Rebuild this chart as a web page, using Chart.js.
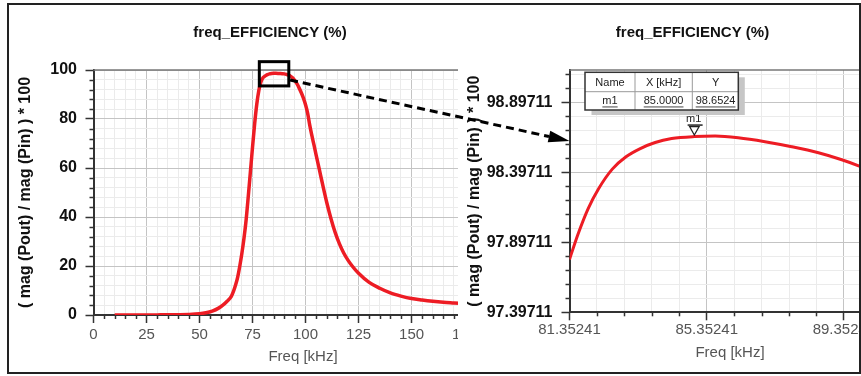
<!DOCTYPE html>
<html>
<head>
<meta charset="utf-8">
<script src="https://cdn.jsdelivr.net/npm/chart.js@4/dist/chart.umd.min.js"></script>
<style>
html,body{margin:0;padding:0;background:#fff;overflow:hidden;width:861px;height:376px;}
#stage{position:relative;width:861px;height:376px;overflow:hidden;background:#fff;}
#leftWrap{position:absolute;left:10px;top:6px;width:510px;height:360px;}
#rightWrap{position:absolute;left:458px;top:6px;width:433px;height:360px;background:#fff;}
#overlay{position:absolute;left:0;top:0;pointer-events:none;}
#frame{position:absolute;left:7px;top:3px;width:854px;height:371px;box-sizing:border-box;border:2px solid #222;pointer-events:none;}
</style>
</head>
<body>
<div id="stage">
  <div id="leftWrap"><canvas id="leftChart" width="510" height="360"></canvas></div>
  <div id="rightWrap"><canvas id="rightChart" width="433" height="360"></canvas></div>
  <canvas id="overlay" width="861" height="376"></canvas>
  <div id="frame"></div>
</div>
<script>
// ---------------- DATA ----------------
const chartTitle = 'freq_EFFICIENCY (%)';
const xAxisTitle = 'Freq [kHz]';
const yAxisTitle = '( mag (Pout) / mag (Pin) ) * 100';

// full sweep (left plot)
const leftFreq = [10,20,30,40,45,50,53,56,59,61,63,65,66,67,68,69,70,71,72,73,74,75,76,77,78,79,80,81,82,83,84,85,86,87,88,89,90,91,92,93,94,95,96,97,98,99,100,101,102,103,104,105,106,107,108,109,110,112,114,116,118,120,122,125,130,135,140,145,150,155,160,165,170,175];
const leftEff  = [0.02,0.03,0.05,0.12,0.22,0.5,0.9,1.6,2.8,4.0,5.6,7.6,9.6,12.2,15.5,20.0,25.3,31.5,39.0,48.5,58.5,68.5,78.0,86.0,91.8,95.2,96.9,97.6,98.08,98.42,98.58,98.65,98.645,98.62,98.57,98.51,98.42,98.2,97.9,97.4,96.7,95.6,94.3,92.6,90.7,88.5,85.8,82.3,77.4,73.2,69.3,65.3,61.4,57.4,53.5,49.6,45.9,39.3,33.6,29.0,25.3,22.4,20.0,17.0,13.3,10.9,9.0,7.7,6.7,6.1,5.6,5.2,4.9,4.6];

// zoomed view (right plot)
const zoomFreq = [81.35241,81.6,81.9,82.2,82.6,83.0,83.4,83.85,84.33,85.0,85.6,86.27,87.05,87.83,88.61,89.29,89.82,90.3];
const zoomEff  = [97.775,97.955,98.140,98.280,98.420,98.508,98.565,98.610,98.638,98.6524,98.656,98.644,98.616,98.580,98.537,98.487,98.440,98.39];

// marker m1
const markerName = 'm1';
const markerFreq = 85.0;
const markerEff = 98.6524;
const markerHeaders = ['Name', 'X [kHz]', 'Y'];

// axis ticks
const leftXMajor = [0,25,50,75,100,125,150,175];
const leftXLabels = ['0','25','50','75','100','125','150','175'];
const leftXMinorDiv = 5;
const leftXRange = [0, 197.6];
const leftYMajor = [0,20,40,60,80,100];
const leftYLabels = ['0','20','40','60','80','100'];
const leftYMinorDiv = 5;
const leftYRange = [0, 100];

const rightXMajor = [81.35241,85.35241,89.35241];
const rightXLabels = ['81.35241','85.35241','89.35241'];
const rightXMinorDiv = 5;
const rightXRange = [81.35241, 90.71];
const rightYMajor = [97.39711,97.89711,98.39711,98.89711];
const rightYLabels = ['97.39711','97.89711','98.39711','98.89711'];
const rightYMinorDiv = 5;
const rightYRange = [97.39711, 99.128];

// annotation: zoom box on the left plot (data units) and arrow endpoints
const zoomBox = {x0: 78.2, x1: 92.1, y0: 93.5, y1: 103.4};
const arrowFrom = {x: 92.7, y: 95.9};   // left plot units
const arrowTo = {x: 81.35241, y: 98.621}; // right plot units

// ---------------- HELPERS ----------------
const FONT = "'Liberation Sans', Arial, Helvetica, sans-serif";
const RED = '#ed1c24';

function buildTicks(major, labels, div, max) {
  const out = [];
  const step = (major[1] - major[0]) / div;
  for (let i = 0; i < major.length; i++) {
    out.push({value: major[i], lbl: labels[i]});
    const next = (i + 1 < major.length) ? major[i + 1] : max + 1e-9;
    for (let k = 1; k < div; k++) {
      const v = major[i] + k * step;
      if (v < next - 1e-9 && v <= max) out.push({value: v, lbl: ''});
    }
  }
  return out.filter(t => t.value <= max + 1e-9);
}

function axis(opts) {
  return {
    type: 'linear',
    min: opts.range[0], max: opts.range[1],
    afterBuildTicks: s => { s.ticks = buildTicks(opts.major, opts.labels, opts.div, opts.range[1]); },
    ticks: {
      autoSkip: false, maxRotation: 0, minRotation: 0,
      color: opts.tickColor, font: opts.tickFont, padding: opts.tickPad,
      callback: (v, i, t) => (t[i] && t[i].lbl) || ''
    },
    grid: {
      color: c => (c.tick && c.tick.lbl) ? '#c4c4c4' : '#ebebeb',
      lineWidth: 1,
      tickLength: 8,
      tickWidth: 1.5,
      tickColor: c => (c.tick && c.tick.lbl) ? '#333' : 'rgba(0,0,0,0)'
    },
    border: {color: '#333', width: 2},
    title: {display: true, text: opts.title, color: opts.titleColor, font: opts.titleFont, padding: opts.titlePad},
    afterFit: opts.afterFit
  };
}

const decoPlugin = {
  id: 'deco',
  afterDraw(chart, args, o) {
    const ctx = chart.ctx, a = chart.chartArea;
    ctx.save();
    ctx.strokeStyle = '#777'; ctx.lineWidth = 1.5;
    ctx.beginPath(); ctx.moveTo(a.left, a.top); ctx.lineTo(a.right, a.top); ctx.stroke();
    ctx.strokeStyle = '#333'; ctx.lineWidth = 1.5;
    const sx = chart.scales.x, sy = chart.scales.y;
    sx.ticks.forEach(t => { if (!t.lbl) { const p = Math.round(sx.getPixelForValue(t.value)) + 0.5; ctx.beginPath(); ctx.moveTo(p, a.bottom); ctx.lineTo(p, a.bottom + 4); ctx.stroke(); } });
    sy.ticks.forEach(t => { if (!t.lbl) { const p = Math.round(sy.getPixelForValue(t.value)) + 0.5; ctx.beginPath(); ctx.moveTo(a.left - 4, p); ctx.lineTo(a.left, p); ctx.stroke(); } });
    ctx.fillStyle = '#111';
    ctx.font = 'bold 15px ' + FONT;
    ctx.textAlign = 'center'; ctx.textBaseline = 'middle';
    ctx.fillText(chartTitle, o.titleX, o.titleY);
    ctx.restore();
  }
};

const boxPlugin = {
  id: 'zoombox',
  afterDraw(chart) {
    const ctx = chart.ctx, sx = chart.scales.x, sy = chart.scales.y;
    const x0 = sx.getPixelForValue(zoomBox.x0), x1 = sx.getPixelForValue(zoomBox.x1);
    const y0 = sy.getPixelForValue(zoomBox.y1), y1 = sy.getPixelForValue(zoomBox.y0);
    ctx.save();
    ctx.strokeStyle = '#000'; ctx.lineWidth = 3;
    ctx.strokeRect(x0, y0, x1 - x0, y1 - y0);
    ctx.restore();
  }
};

const markerPlugin = {
  id: 'marker',
  afterDraw(chart) {
    const ctx = chart.ctx, a = chart.chartArea, sx = chart.scales.x, sy = chart.scales.y;
    const px = sx.getPixelForValue(markerFreq), py = sy.getPixelForValue(markerEff);
    ctx.save();
    ctx.strokeStyle = '#222'; ctx.lineWidth = 1.2; ctx.fillStyle = '#fff';
    ctx.beginPath();
    ctx.moveTo(px - 5, py - 10); ctx.lineTo(px + 4.5, py - 10); ctx.lineTo(px - 0.3, py - 1.6); ctx.closePath();
    ctx.fill(); ctx.stroke();
    ctx.lineWidth = 1.5;
    ctx.beginPath(); ctx.moveTo(px - 7, py - 11.5); ctx.lineTo(px + 8, py - 11.5); ctx.stroke();
    ctx.fillStyle = '#222'; ctx.font = '11px ' + FONT; ctx.textAlign = 'center'; ctx.textBaseline = 'middle';
    ctx.fillText(markerName, px - 1, py - 17.5);

    const tx = a.left + 15.5, ty = a.top + 2.3, tw = 153.3, th = 37.7;
    ctx.fillStyle = '#c6c6c6'; ctx.fillRect(tx + 6.5, ty + 5, tw, th);
    ctx.fillStyle = '#fff'; ctx.fillRect(tx, ty, tw, th);
    ctx.strokeStyle = '#999'; ctx.lineWidth = 1;
    const c1 = tx + 50, c2 = tx + 107.3, r1 = ty + 19.4;
    ctx.beginPath();
    ctx.moveTo(c1, ty); ctx.lineTo(c1, ty + th);
    ctx.moveTo(c2, ty); ctx.lineTo(c2, ty + th);
    ctx.moveTo(tx, r1); ctx.lineTo(tx + tw, r1);
    ctx.stroke();
    ctx.strokeStyle = '#333'; ctx.lineWidth = 1.5;
    ctx.strokeRect(tx, ty, tw, th);
    const cx = [tx + 25, tx + 78.6, tx + 130.6];
    ctx.fillStyle = '#222'; ctx.font = '11px ' + FONT;
    markerHeaders.forEach((h, i) => ctx.fillText(h, cx[i], ty + 10.4));
    const row = [markerName, markerFreq.toFixed(4), markerEff.toFixed(4)];
    row.forEach((v, i) => {
      ctx.fillStyle = '#222';
      ctx.fillText(v, cx[i], ty + 28.5);
      const w = ctx.measureText(v).width;
      ctx.fillStyle = '#8c8c8c';
      ctx.fillRect(cx[i] - w / 2, ty + 33.8, w, 1.6);
    });
    ctx.restore();
  }
};

// ---------------- CHARTS ----------------
const leftChart = new Chart(document.getElementById('leftChart'), {
  type: 'line',
  data: { datasets: [{
    data: leftFreq.map((f, i) => ({x: f, y: leftEff[i]})),
    borderColor: RED, borderWidth: 3.5, pointRadius: 0, fill: false,
    cubicInterpolationMode: 'monotone'
  }]},
  options: {
    responsive: false, animation: false, devicePixelRatio: 1,
    layout: {padding: {top: 64, right: 7.5, bottom: 0, left: 0}},
    plugins: {legend: {display: false}, tooltip: {enabled: false}, deco: {titleX: 260, titleY: 27}},
    scales: {
      x: axis({range: leftXRange, major: leftXMajor, labels: leftXLabels, div: leftXMinorDiv,
        tickColor: '#555', tickFont: {family: FONT, size: 15}, tickPad: 3,
        title: xAxisTitle, titleColor: '#555', titleFont: {family: FONT, size: 15}, titlePad: {top: 0, bottom: 0},
        afterFit: s => { s.height = 51; s.paddingLeft = 0; s.paddingRight = 0; }}),
      y: axis({range: leftYRange, major: leftYMajor, labels: leftYLabels, div: leftYMinorDiv,
        tickColor: '#111', tickFont: {family: FONT, size: 16, weight: 'bold'}, tickPad: 8.5,
        title: yAxisTitle, titleColor: '#111', titleFont: {family: FONT, size: 16, weight: 'bold'}, titlePad: {top: 6, bottom: 0},
        afterFit: s => { s.width = 83.5; s.paddingTop = 0; s.paddingBottom = 0; }})
    }
  },
  plugins: [decoPlugin, boxPlugin]
});

const rightChart = new Chart(document.getElementById('rightChart'), {
  type: 'line',
  data: { datasets: [{
    data: zoomFreq.map((f, i) => ({x: f, y: zoomEff[i]})),
    borderColor: RED, borderWidth: 3, pointRadius: 0, fill: false,
    cubicInterpolationMode: 'monotone'
  }]},
  options: {
    responsive: false, animation: false, devicePixelRatio: 1,
    layout: {padding: {top: 64, right: 0.5, bottom: 0, left: 0}},
    plugins: {legend: {display: false}, tooltip: {enabled: false}, deco: {titleX: 234.5, titleY: 27}},
    scales: {
      x: axis({range: rightXRange, major: rightXMajor, labels: rightXLabels, div: rightXMinorDiv,
        tickColor: '#555', tickFont: {family: FONT, size: 15}, tickPad: 1,
        title: xAxisTitle, titleColor: '#555', titleFont: {family: FONT, size: 15}, titlePad: {top: 0, bottom: 3.7},
        afterFit: s => { s.height = 53.7; s.paddingLeft = 0; s.paddingRight = 0; }}),
      y: axis({range: rightYRange, major: rightYMajor, labels: rightYLabels, div: rightYMinorDiv,
        tickColor: '#111', tickFont: {family: FONT, size: 16, weight: 'bold'}, tickPad: 9,
        title: yAxisTitle, titleColor: '#111', titleFont: {family: FONT, size: 16, weight: 'bold'}, titlePad: {top: 7.4, bottom: 0},
        afterFit: s => { s.width = 111.5; s.paddingTop = 0; s.paddingBottom = 0; }})
    }
  },
  plugins: [decoPlugin, markerPlugin]
});

// ---------------- ARROW OVERLAY ----------------
(function drawArrow() {
  const lw = document.getElementById('leftWrap'), rw = document.getElementById('rightWrap');
  const g = document.getElementById('overlay').getContext('2d');
  const sx = lw.offsetLeft + leftChart.scales.x.getPixelForValue(arrowFrom.x);
  const sy = lw.offsetTop + leftChart.scales.y.getPixelForValue(arrowFrom.y);
  const ex = rw.offsetLeft + rightChart.scales.x.getPixelForValue(arrowTo.x);
  const ey = rw.offsetTop + rightChart.scales.y.getPixelForValue(arrowTo.y);
  const ang = Math.atan2(ey - sy, ex - sx);
  const headLen = 21, headHalf = 6;
  const bx = ex - headLen * Math.cos(ang), by = ey - headLen * Math.sin(ang);
  g.strokeStyle = '#000'; g.lineWidth = 3; g.setLineDash([8, 5]);
  g.beginPath(); g.moveTo(sx, sy); g.lineTo(bx, by); g.stroke();
  g.setLineDash([]);
  g.fillStyle = '#000';
  g.beginPath();
  g.moveTo(ex, ey);
  g.lineTo(bx + headHalf * Math.sin(ang), by - headHalf * Math.cos(ang));
  g.lineTo(bx - headHalf * Math.sin(ang), by + headHalf * Math.cos(ang));
  g.closePath(); g.fill();
})();
</script>
</body>
</html>
